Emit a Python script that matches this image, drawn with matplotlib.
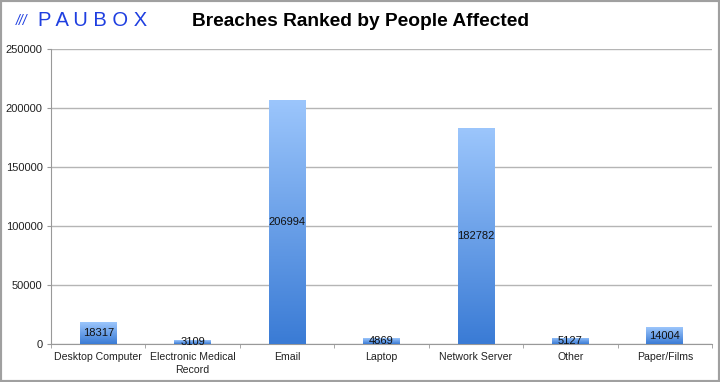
import matplotlib
matplotlib.use("Agg")
import matplotlib.pyplot as plt
import numpy as np
from matplotlib.patches import Rectangle

plt.rcParams['font.family'] = ['Liberation Sans', 'DejaVu Sans']

categories = ["Desktop Computer", "Electronic Medical\nRecord", "Email", "Laptop",
              "Network Server", "Other", "Paper/Films"]
people = [18317, 3109, 206994, 4869, 182782, 5127, 14004]
yticks = [0, 50000, 100000, 150000, 200000, 250000]

fig = plt.figure(figsize=(7.2, 3.82), dpi=100)
ax = fig.add_axes([51/720, 38/382, 661/720, 295/382])

x = np.arange(len(categories))
bars = ax.bar(x, people, width=0.39, color="none", zorder=3)

# vertical gradient per bar
grad = np.linspace(0, 1, 256).reshape(-1, 1)
cmap = matplotlib.colors.LinearSegmentedColormap.from_list("b", ["#3a7bd5", "#9cc6fc"])
for b in bars:
    x0, w, h = b.get_x(), b.get_width(), b.get_height()
    im = ax.imshow(grad, extent=[x0, x0 + w, 0, h], origin="lower", cmap=cmap,
                   aspect="auto", zorder=3)
    im.set_clip_path(b)
    ax.text(x0 + w/2, h/2, str(int(h)), ha="center", va="center", fontsize=8,
            color="#111111", zorder=4)

ax.set_xlim(-0.5, len(categories) - 0.5)
ax.set_ylim(0, 250000)
ax.set_yticks(yticks)
ax.set_yticklabels([str(t) for t in yticks], fontsize=8, color="#222222")
ax.yaxis.grid(True, color="#b5b5b5", lw=1, zorder=0)
ax.set_xticks(x)
ax.set_xticklabels(categories, fontsize=7.6, color="#222222", linespacing=1.35)
ax.tick_params(axis="x", length=0, pad=6)
ax.tick_params(axis="y", length=3, color="#999999", pad=3)
ax.set_xticks(np.arange(-0.5, len(categories)), minor=True)
ax.tick_params(axis="x", which="minor", length=3, color="#999999")
for s in ["top", "right"]:
    ax.spines[s].set_visible(False)
for s in ["left", "bottom"]:
    ax.spines[s].set_color("#999999")

fig.text(0.5, 361/382, "Breaches Ranked by People Affected", ha="center", va="center",
         fontsize=13.8, fontweight="bold")
fig.text(16/720, 361/382, "///", ha="left", va="center", fontsize=10, color="#1f3fe0",
         style="italic")
fig.text(38/720, 361/382, "P A U B O X", ha="left", va="center", fontsize=14.5,
         color="#1f3fe0")

fig.patches.append(Rectangle((0, 0), 1, 1, transform=fig.transFigure, fill=False,
                             edgecolor="#a0a0a0", lw=3))

fig.savefig("out.png", dpi=100)
